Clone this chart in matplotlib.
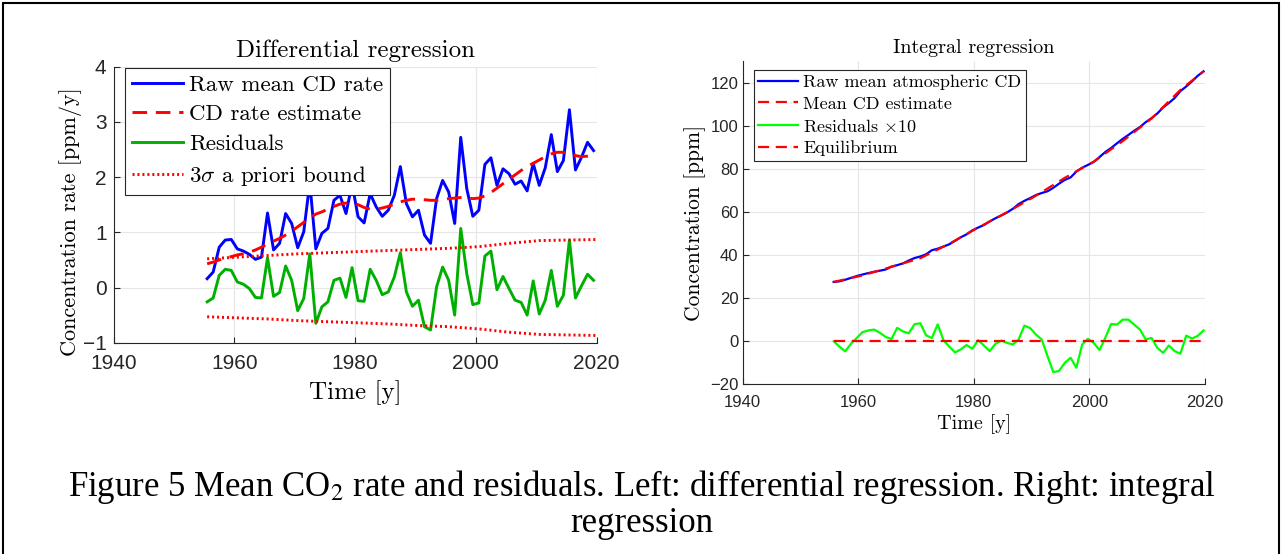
import numpy as np
import matplotlib
matplotlib.use("Agg")
import matplotlib.pyplot as plt
from matplotlib.patches import Rectangle

# ---- data ----
years = np.arange(1955.5, 2020.0, 1.0)  # left panel, annual means

raw_rate = [
    0.16, 0.28, 0.73, 0.86, 0.87, 0.70, 0.66, 0.60, 0.51, 0.55,
    1.35, 0.68, 0.80, 1.34, 1.16, 0.72, 1.01, 1.90, 0.70, 0.98,
    1.07, 1.58, 1.67, 1.34, 1.88, 1.28, 1.17, 1.70, 1.46, 1.29,
    1.40, 1.67, 2.19, 1.52, 1.28, 1.40, 0.95, 0.80, 1.61, 1.94,
    1.73, 1.16, 2.72, 1.79, 1.29, 1.40, 2.23, 2.35, 1.85, 2.15,
    2.06, 1.87, 1.93, 1.75, 2.25, 1.85, 2.17, 2.77, 2.10, 2.30,
    3.22, 2.13, 2.36, 2.63, 2.48,
]
rate_est = [
    0.43, 0.46, 0.50, 0.53, 0.56, 0.59, 0.61, 0.64, 0.68, 0.73,
    0.79, 0.84, 0.89, 0.95, 1.02, 1.10, 1.18, 1.26, 1.33, 1.37,
    1.42, 1.47, 1.51, 1.53, 1.53, 1.50, 1.45, 1.42, 1.42, 1.44,
    1.47, 1.51, 1.55, 1.58, 1.60, 1.60, 1.59, 1.58, 1.58, 1.59,
    1.61, 1.62, 1.63, 1.62, 1.61, 1.62, 1.66, 1.72, 1.80, 1.88,
    1.96, 2.04, 2.12, 2.19, 2.25, 2.31, 2.37, 2.42, 2.45, 2.45,
    2.42, 2.39, 2.37, 2.38, 2.40,
]
rate_resid = [
    -0.26, -0.19, 0.22, 0.33, 0.31, 0.10, 0.06, -0.02, -0.18, -0.19,
    0.54, -0.16, -0.09, 0.39, 0.13, -0.42, -0.20, 0.61, -0.65, -0.35,
    -0.26, 0.13, 0.17, -0.18, 0.36, -0.24, -0.25, 0.33, 0.13, -0.13,
    -0.08, 0.19, 0.63, -0.08, -0.34, -0.23, -0.71, -0.77, 0.01, 0.37,
    0.13, -0.50, 1.07, 0.25, -0.31, -0.28, 0.57, 0.66, -0.04, 0.20,
    -0.02, -0.23, -0.27, -0.50, 0.12, -0.48, -0.23, 0.31, -0.34, -0.14,
    0.86, -0.19, 0.03, 0.24, 0.13,
]
bound_years = [1955.5, 1960.5, 1965.5, 1970.5, 1975.5, 1980.5, 1985.5,
               1990.5, 1995.5, 2000.5, 2005.5, 2010.5, 2015.5, 2020.5]
bound_up = [0.52, 0.55, 0.58, 0.61, 0.63, 0.65, 0.67, 0.69, 0.71, 0.74,
            0.80, 0.85, 0.86, 0.87]
bound_lo = [-0.53, -0.55, -0.57, -0.60, -0.62, -0.64, -0.66, -0.69, -0.71,
            -0.75, -0.81, -0.85, -0.86, -0.87]

years_r = np.arange(1955.75, 2020.0, 1.0)  # right panel
raw_cd = [
    27.50, 27.78, 28.51, 29.37, 30.24, 30.94, 31.60, 32.20, 32.71, 33.26,
    34.61, 35.29, 36.09, 37.43, 38.59, 39.31, 40.32, 42.22, 42.92, 43.90,
    44.97, 46.55, 48.22, 49.56, 51.44, 52.72, 53.89, 55.59, 57.05, 58.34,
    59.74, 61.41, 63.60, 65.12, 66.40, 67.80, 68.75, 69.55, 71.16, 73.10,
    74.83, 75.99, 78.71, 80.50, 81.79, 83.19, 85.42, 87.77, 89.62, 91.77,
    93.83, 95.70, 97.63, 99.38, 101.63, 103.48, 105.65, 108.42, 110.52, 112.82,
    116.04, 118.17, 120.53, 123.16, 125.20,
]
est_years = [1955.75, 1960.75, 1965.75, 1970.75, 1975.75, 1980.75, 1985.75,
             1990.75, 1995.75, 2000.75, 2005.75, 2010.75, 2015.75, 2019.75]
cd_est = [27.5, 30.5, 34.5, 38.5, 45.2, 52.7, 59.8, 67.5, 75.8, 83.3,
          92.8, 103.3, 116.6, 125.2]
cd_resid10 = [
    0.0, -2.5, -4.7, -1.2, 1.5, 4.2, 5.0, 5.4, 3.9, 2.0,
    1.0, 6.2, 4.5, 3.7, 7.9, 8.3, 2.7, 1.5, 7.8, 0.5,
    -2.5, -5.2, -3.8, -1.8, -3.5, 0.5, -2.0, -4.6, -1.2, 0.3,
    -0.8, -1.5, 0.8, 7.2, 6.1, 3.1, 0.8, -6.9, -14.3, -13.8,
    -10.0, -7.7, -12.3, -1.5, 1.1, -0.8, -4.1, 1.5, 8.0, 7.7,
    10.0, 10.0, 7.7, 5.4, 0.8, 1.5, -3.1, -5.4, -2.0, -4.6,
    -5.8, 2.6, 1.2, 2.5, 5.0,
]
equilibrium = [0.0, 0.0]
equil_years = [1955.75, 2019.75]

xticks = [1940, 1960, 1980, 2000, 2020]

# ---- style ----
plt.rcParams["mathtext.fontset"] = "cm"
CM = "cmr10"
TICKF = "Liberation Sans"
BLUE = "#0000ff"
RED = "#ff0000"
GREEN_D = "#00b000"
GREEN_L = "#00ff00"
AX_COL = "#262626"


def matlab_axes(ax, tick_size, xpad, ypad):
    for s in ("top", "right"):
        ax.spines[s].set_visible(False)
    for s in ("left", "bottom"):
        ax.spines[s].set_color(AX_COL)
        ax.spines[s].set_linewidth(0.8)
    ax.tick_params(direction="in", length=4, width=0.8, colors=AX_COL,
                   labelsize=tick_size, labelcolor="#262626")
    ax.tick_params(axis="x", pad=xpad)
    ax.tick_params(axis="y", pad=ypad)
    for lab in ax.get_xticklabels() + ax.get_yticklabels():
        lab.set_family(TICKF)
    ax.grid(True, color="#e6e6e6", linewidth=0.8)
    ax.set_axisbelow(True)


fig = plt.figure(figsize=(12.83, 5.54), dpi=100)

# ---- left: differential regression ----
ax1 = fig.add_axes([0.0885, 0.3814, 0.3765, 0.4982])
ax1.plot(years, raw_rate, color=BLUE, lw=2.1, label="Raw mean CD rate")
ax1.plot(years, rate_est, color=RED, lw=2.1, dashes=(5, 3), label="CD rate estimate")
ax1.plot(years, rate_resid, color=GREEN_D, lw=2.1, label="Residuals")
ax1.plot(bound_years, bound_up, color=RED, lw=2.1, linestyle=(0, (0.7, 1.0)),
         label=r"$3\sigma$ a priori bound")
ax1.plot(bound_years, bound_lo, color=RED, lw=2.1, linestyle=(0, (0.7, 1.0)))
ax1.set_xlim(1940, 2020)
ax1.set_ylim(-1, 4)
ax1.set_xticks(xticks)
ax1.set_yticks([-1, 0, 1, 2, 3, 4])
matlab_axes(ax1, 15, 8, 5)
ax1.set_title("Differential regression", family=CM, fontsize=18, pad=7)
ax1.set_xlabel("Time [y]", family=CM, fontsize=18, labelpad=5)
ax1.set_ylabel("Concentration rate [ppm/y]", family=CM, fontsize=16)
ax1.yaxis.set_label_coords(-0.066, 0.44)
leg1 = ax1.legend(loc="upper left", prop={"family": CM, "size": 16.5},
                  fancybox=False, framealpha=1, edgecolor=AX_COL,
                  handlelength=2.2, handletextpad=0.3, borderaxespad=0.05,
                  borderpad=0.3, labelspacing=0.42,
                  bbox_to_anchor=(0.022, 1.0))
leg1.get_frame().set_linewidth(0.8)

# ---- right: integral regression ----
ax2 = fig.add_axes([0.5788, 0.3063, 0.3604, 0.5836])
ax2.plot(years_r, raw_cd, color=BLUE, lw=1.6, label="Raw mean atmospheric CD")
ax2.plot(est_years, cd_est, color=RED, lw=1.6, dashes=(5, 3), label="Mean CD estimate")
ax2.plot(years_r, cd_resid10, color=GREEN_L, lw=1.6, label=r"Residuals $\times10$")
ax2.plot(equil_years, equilibrium, color=RED, lw=1.6, dashes=(5, 3), label="Equilibrium")
ax2.set_xlim(1940, 2020)
ax2.set_ylim(-20, 130)
ax2.set_xticks(xticks)
ax2.set_yticks(np.arange(-20, 121, 20))
matlab_axes(ax2, 12, 8, 3)
ax2.set_title("Integral regression", family=CM, fontsize=14.5, pad=6)
ax2.set_xlabel("Time [y]", family=CM, fontsize=14.5, labelpad=3)
ax2.set_ylabel("Concentration [ppm]", family=CM, fontsize=15.5, labelpad=3)
leg2 = ax2.legend(loc="upper left", prop={"family": CM, "size": 13},
                  fancybox=False, framealpha=1, edgecolor=AX_COL,
                  handlelength=2.2, handletextpad=0.3, borderaxespad=0.05,
                  borderpad=0.25, labelspacing=0.33,
                  bbox_to_anchor=(0.022, 0.975))
leg2.get_frame().set_linewidth(0.8)

# ---- caption and page border ----
fig.text(0.5, 1 - 487 / 554, r"Figure 5 Mean CO$_2$ rate and residuals. Left: differential regression. Right: integral",
         ha="center", va="center", family="Liberation Serif", fontsize=25,
         math_fontfamily="stix")
fig.text(0.5, 1 - 523 / 554, "regression", ha="center", va="center",
         family="Liberation Serif", fontsize=25)
fig.patches.append(Rectangle((3 / 1283, -0.05), 1276 / 1283, 1.05 - 3 / 554,
                             transform=fig.transFigure, fill=False,
                             edgecolor="black", linewidth=1.5))

fig.savefig("out.png", dpi=100)
